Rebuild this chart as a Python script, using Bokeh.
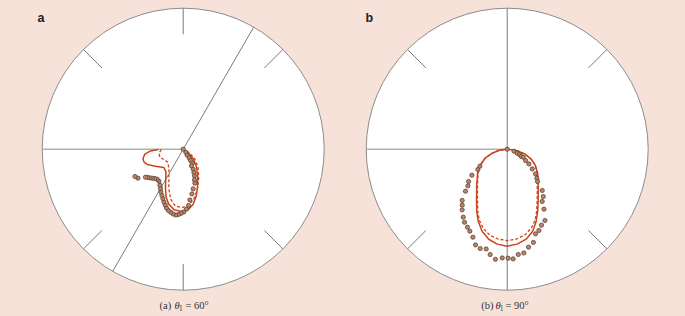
import numpy as np
from bokeh.plotting import figure
from bokeh.layouts import row
from bokeh.models import Range1d
from bokeh.core.properties import value
from bokeh.embed import file_html
from bokeh.resources import INLINE

# ---------------- data (angle in degrees, radius normalised to outer circle) ----------------
# panel a : theta1 = 60 deg
a_solid_angle = [-179.3, -177.0, -172.6, -167.0, -162.1, -157.0, -148.5, -136.5, -127.3, -120.3,
                 -113.9, -109.5, -104.8, -98.5, -91.8, -85.3, -79.7, -74.5, -69.4, -62.6,
                 -53.5, -43.5, -35.0, -30.0]
a_solid_r = [0.177, 0.232, 0.274, 0.293, 0.293, 0.277, 0.231, 0.189, 0.202, 0.246,
             0.310, 0.361, 0.403, 0.434, 0.442, 0.431, 0.396, 0.346, 0.288, 0.224,
             0.159, 0.098, 0.043, 0.0]
a_dash_angle = [-179.2, -170.5, -161.2, -152.2, -140.0, -126.5, -117.1, -109.7, -104.0, -98.1,
                -91.0, -84.4, -78.1, -71.1, -62.7, -51.7, -39.6, -30.3, -30.0]
a_dash_r = [0.156, 0.173, 0.176, 0.156, 0.143, 0.170, 0.223, 0.301, 0.366, 0.405,
            0.415, 0.399, 0.362, 0.307, 0.239, 0.172, 0.106, 0.049, 0.0]
a_meas_angle = [-90.0, -50.7, -56.3, -55.4, -57.1, -57.3, -63.6, -63.4, -65.3, -67.1, -69.8, -71.0,
                -75.9, -79.0, -82.5, -84.6, -86.9, -89.4, -91.8, -94.2, -96.4, -98.8, -101.1,
                -103.5, -105.9, -107.9, -110.1, -112.4, -114.8, -117.6, -120.0, -122.9, -127.2,
                -130.9, -134.0, -136.6, -139.0, -141.3, -143.4, -147.4, -150.5]
a_meas_r = [0.0, 0.030, 0.051, 0.075, 0.095, 0.118, 0.132, 0.159, 0.182, 0.206, 0.232, 0.255,
            0.290, 0.323, 0.363, 0.401, 0.426, 0.445, 0.455, 0.465, 0.470, 0.465, 0.456,
            0.447, 0.433, 0.415, 0.398, 0.378, 0.360, 0.342, 0.322, 0.304, 0.285,
            0.282, 0.289, 0.300, 0.310, 0.321, 0.333, 0.381, 0.393]

# panel b : theta1 = 90 deg
b_solid_angle = [0.0, -8.5, -15.5, -22.6, -29.7, -38.2, -48.5, -58.2, -63.8, -68.1, -72.7, -78.1,
                 -84.0, -90.0, -96.0, -101.6, -107.0, -111.9, -116.2, -121.5, -131.1, -140.9,
                 -149.4, -157.8, -165.1, -172.9, -180.0]
b_solid_r = [0.0, 0.072, 0.132, 0.184, 0.229, 0.275, 0.332, 0.417, 0.490, 0.551, 0.609, 0.652,
             0.677, 0.688, 0.677, 0.652, 0.608, 0.551, 0.490, 0.416, 0.329, 0.270,
             0.223, 0.169, 0.110, 0.057, 0.0]
b_dash_angle = [0.0, -8.5, -15.5, -22.6, -29.7, -38.7, -49.4, -59.0, -64.6, -68.5, -73.1, -78.5,
                -84.3, -90.0, -95.7, -101.5, -106.9, -111.5, -115.4, -120.7, -130.3, -140.4,
                -149.4, -157.8, -165.1, -172.9, -180.0]
b_dash_r = [0.0, 0.072, 0.132, 0.184, 0.229, 0.272, 0.327, 0.414, 0.487, 0.541, 0.586, 0.622,
            0.641, 0.648, 0.641, 0.622, 0.586, 0.541, 0.487, 0.412, 0.326, 0.267,
            0.223, 0.169, 0.110, 0.057, 0.0]
b_meas_angle = [-90.0, -16.6, -21.8, -23.3, -27.5, -26.6, -31.7, -34.1, -38.2, -41.1, -44.3, -46.8,
                -49.7, -52.7, -56.2, -58.5, -62.1, -65.7, -68.7, -71.5, -74.3, -77.7, -80.9,
                -84.0, -86.9, -89.5, -92.6, -96.1, -99.2, -101.9, -105.2, -108.3, -111.3,
                -114.5, -117.0, -120.3, -122.9, -126.6, -128.8, -131.3, -134.8, -137.0, -140.1,
                -143.6, -145.3, -148.1]
b_meas_r = [0.0, 0.050, 0.076, 0.095, 0.112, 0.127, 0.153, 0.186, 0.226, 0.266, 0.294, 0.314,
            0.384, 0.422, 0.446, 0.499, 0.572, 0.591, 0.619, 0.633, 0.687, 0.711, 0.745,
            0.751, 0.779, 0.773, 0.772, 0.785, 0.757, 0.723, 0.730, 0.715, 0.670,
            0.639, 0.621, 0.600, 0.574, 0.536, 0.509, 0.484, 0.420, 0.381, 0.357,
            0.311, 0.253, 0.228]

panel_letters = ["a", "b"]
captions = [("(a)", "\u03b8", "1", "= 60\u00b0"), ("(b)", "\u03b8", "1", "= 90\u00b0")]
incidence_deg = [60, 90]

# ---------------- style ----------------
BG = "#f6e2d8"
RED = "#c9441c"
DOT_FILL = "#b9856b"
DOT_LINE = "#5e4132"
GRID = "#7a7a7a"
R_PX = 141.0
H = 316


def pol(ang, r):
    a = np.radians(np.asarray(ang, dtype=float))
    r = np.asarray(r, dtype=float)
    return r * np.cos(a), r * np.sin(a)


def make_panel(width, cx, cy, letter, cap, cap_dx, inc, s_ang, s_r, d_ang, d_r, m_ang, m_r, ticks):
    p = figure(width=width, height=H, output_backend="svg", toolbar_location=None,
               x_range=Range1d(-cx / R_PX, (width - cx) / R_PX),
               y_range=Range1d(-(H - cy) / R_PX, cy / R_PX),
               x_axis_location=None, y_axis_location=None,
               min_border=0, min_border_left=0, min_border_right=0,
               min_border_top=0, min_border_bottom=0)
    p.grid.visible = False
    p.outline_line_color = None
    p.background_fill_color = BG
    p.border_fill_color = BG

    def px(xl, yl):
        return (xl - cx) / R_PX, (cy - yl) / R_PX

    # outer circle
    p.circle(x=[0], y=[0], radius=1.0, fill_color="white", line_color="#8c8c8c", line_width=1)

    # tick marks at the rim
    ta = np.radians(np.asarray(ticks, dtype=float))
    p.segment(x0=0.815 * np.cos(ta), y0=0.815 * np.sin(ta), x1=np.cos(ta), y1=np.sin(ta),
              line_color=GRID, line_width=1)
    # horizontal ray (surface) and incidence line
    p.segment(x0=[-1.0], y0=[0.0], x1=[0.0], y1=[0.0], line_color="#b0b0b0", line_width=1.6)
    ia = np.radians(inc)
    p.segment(x0=[np.cos(ia)], y0=[np.sin(ia)], x1=[-np.cos(ia)], y1=[-np.sin(ia)],
              line_color=GRID, line_width=1)

    # curves
    xs, ys = pol(s_ang, s_r)
    p.line(xs, ys, line_color=RED, line_width=1.5)
    xd, yd = pol(d_ang, d_r)
    p.line(xd, yd, line_color=RED, line_width=1.3, line_dash="3 2")
    xm, ym = pol(m_ang, m_r)
    p.scatter(xm, ym, size=4.2, fill_color=DOT_FILL, line_color=DOT_LINE, line_width=0.8)

    # panel letter
    lx, ly = px(letter[1], 17.3)
    p.text(x=[lx], y=[ly], text=[letter[0]], text_font=value("Liberation Sans"),
           text_font_size="12.5px", text_font_style="bold", text_color="#222222",
           text_baseline="alphabetic", text_align="left")

    # caption
    serif = value("Liberation Serif")
    base = 305.4
    parts = [(cap[0], cap_dx[0], base, "10.5px", "normal"),
             (cap[1], cap_dx[1], base, "10.5px", "italic"),
             (cap[2], cap_dx[2], base + 1.8, "7.5px", "normal"),
             (cap[3], cap_dx[3], base, "10.5px", "normal")]
    for t, dx, yl, fs, st in parts:
        tx, ty = px(cx + dx, yl)
        p.text(x=[tx], y=[ty], text=[t], text_font=serif, text_font_size=fs,
               text_font_style=st, text_color="#333333",
               text_baseline="alphabetic", text_align="left")
    return p


pa = make_panel(342, 182.7, 148.7, (panel_letters[0], 37), captions[0],
                (-23.7, -8.6, -4.3, 2.3), incidence_deg[0],
                a_solid_angle, a_solid_r, a_dash_angle, a_dash_r, a_meas_angle, a_meas_r,
                [45, 90, 135, 225, 270, 315])
pb = make_panel(343, 164.7, 148.7, (panel_letters[1], 23), captions[1],
                (-26.0, -11.7, -7.4, -1.7), incidence_deg[1],
                b_solid_angle, b_solid_r, b_dash_angle, b_dash_r, b_meas_angle, b_meas_r,
                [45, 135, 225, 315])

layout = row(pa, pb)
html = file_html(layout, INLINE)
html = html.replace("</head>", "<style>html,body{background:%s;}</style></head>" % BG, 1)
open("out.html", "w").write(html)
